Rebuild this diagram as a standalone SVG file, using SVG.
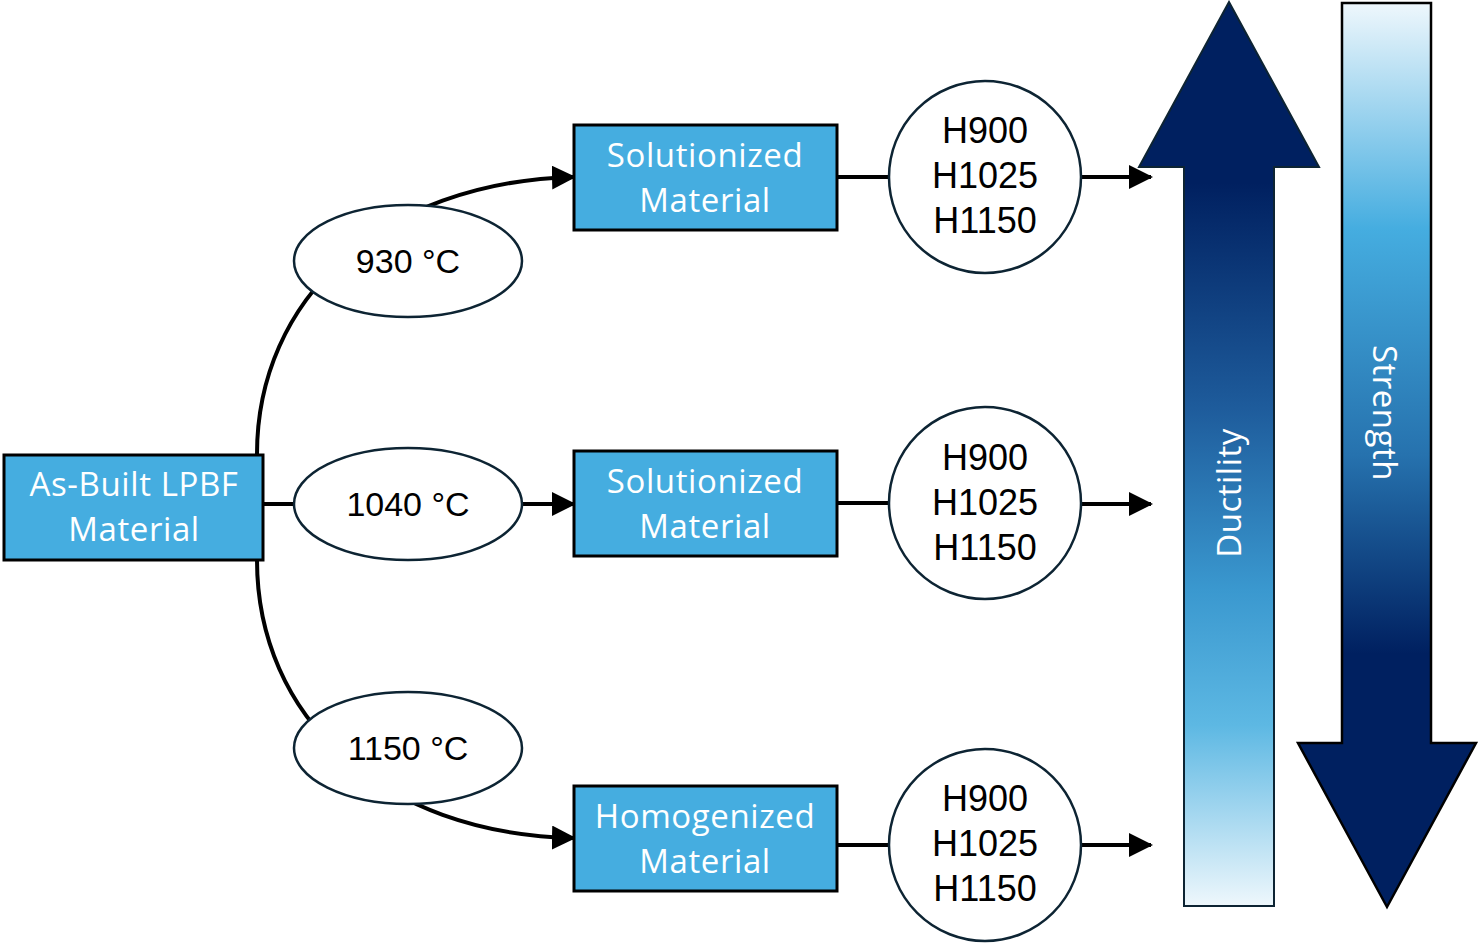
<svg xmlns="http://www.w3.org/2000/svg" width="1479" height="943" viewBox="0 0 1479 943">
<style>
.box{fill:#45ADE0;stroke:#000;stroke-width:3}
.ell{fill:#fff;stroke:#0d2433;stroke-width:2.5}
.bt{font-family:"Open Sans","Noto Sans",sans-serif;font-size:33px;fill:#fff;text-anchor:middle;letter-spacing:0.6px}
.et{font-family:"Liberation Sans",Arial,sans-serif;font-size:34px;fill:#000;text-anchor:middle}
.ct{font-family:"Liberation Sans",Arial,sans-serif;font-size:36px;fill:#000;text-anchor:middle}
.con{fill:none;stroke:#000;stroke-width:4}
.vt{font-family:"Open Sans","Noto Sans",sans-serif;font-size:33px;fill:#fff;text-anchor:middle;letter-spacing:0.5px}
</style>
<defs>
<marker id="ah" markerWidth="24" markerHeight="24" refX="22" refY="12" orient="auto" markerUnits="userSpaceOnUse" viewBox="0 0 24 24">
<path d="M0,0 L24,12 L0,24 Z" fill="#000"/>
</marker>
<linearGradient id="gDuct" x1="0" y1="0" x2="0" y2="1" gradientUnits="objectBoundingBox">
<stop offset="0" stop-color="#002060"/>
<stop offset="0.2" stop-color="#002060"/>
<stop offset="0.45" stop-color="#1E5C9C"/>
<stop offset="0.65" stop-color="#3A98CF"/>
<stop offset="0.8" stop-color="#5DB8E3"/>
<stop offset="1" stop-color="#EEF7FC"/>
</linearGradient>
<linearGradient id="gStr" x1="0" y1="0" x2="0" y2="1" gradientUnits="objectBoundingBox">
<stop offset="0" stop-color="#EEF7FC"/>
<stop offset="0.25" stop-color="#45ADE0"/>
<stop offset="0.5" stop-color="#2672AE"/>
<stop offset="0.72" stop-color="#002060"/>
<stop offset="1" stop-color="#002060"/>
</linearGradient>
</defs>

<g id="connectors">
<line class="con" x1="263" y1="504" x2="295" y2="504"/>
<line class="con" x1="522" y1="504" x2="574" y2="504" marker-end="url(#ah)"/>
<path class="con" d="M257,454 C257,300 380,182 574,177" marker-end="url(#ah)"/>
<path class="con" d="M257,560 C257,716 380,834 574,838" marker-end="url(#ah)"/>
<line class="con" x1="837" y1="177" x2="890" y2="177"/>
<line class="con" x1="837" y1="503" x2="890" y2="503"/>
<line class="con" x1="837" y1="845" x2="890" y2="845"/>
<line class="con" x1="1081" y1="177" x2="1151" y2="177" marker-end="url(#ah)"/>
<line class="con" x1="1081" y1="504" x2="1151" y2="504" marker-end="url(#ah)"/>
<line class="con" x1="1081" y1="845" x2="1151" y2="845" marker-end="url(#ah)"/>
</g>

<g id="asbuilt">
<rect class="box" x="4" y="455" width="259" height="105"/>
<text class="bt" x="134" y="496">As-Built LPBF</text>
<text class="bt" x="134" y="541">Material</text>
</g>

<g id="t930">
<ellipse class="ell" cx="408" cy="261" rx="114" ry="56"/>
<text class="et" x="408" y="273">930 °C</text>
</g>
<g id="t1040">
<ellipse class="ell" cx="408" cy="504" rx="114" ry="56"/>
<text class="et" x="408" y="516">1040 °C</text>
</g>
<g id="t1150">
<ellipse class="ell" cx="408" cy="748" rx="114" ry="56"/>
<text class="et" x="408" y="760">1150 °C</text>
</g>

<g id="sol1">
<rect class="box" x="574" y="125" width="263" height="105"/>
<text class="bt" x="705" y="167">Solutionized</text>
<text class="bt" x="705" y="212">Material</text>
</g>
<g id="sol2">
<rect class="box" x="574" y="451" width="263" height="105"/>
<text class="bt" x="705" y="493">Solutionized</text>
<text class="bt" x="705" y="538">Material</text>
</g>
<g id="hom">
<rect class="box" x="574" y="786" width="263" height="105"/>
<text class="bt" x="705" y="828">Homogenized</text>
<text class="bt" x="705" y="873">Material</text>
</g>

<g id="c1">
<circle class="ell" cx="985" cy="177" r="96"/>
<text class="ct" x="985" y="143">H900</text>
<text class="ct" x="985" y="188">H1025</text>
<text class="ct" x="985" y="233">H1150</text>
</g>
<g id="c2">
<circle class="ell" cx="985" cy="503" r="96"/>
<text class="ct" x="985" y="470">H900</text>
<text class="ct" x="985" y="515">H1025</text>
<text class="ct" x="985" y="560">H1150</text>
</g>
<g id="c3">
<circle class="ell" cx="985" cy="845" r="96"/>
<text class="ct" x="985" y="811">H900</text>
<text class="ct" x="985" y="856">H1025</text>
<text class="ct" x="985" y="901">H1150</text>
</g>

<g id="ductility">
<path d="M1229,2 L1319,167 L1274,167 L1274,906 L1184,906 L1184,167 L1139,167 Z" fill="url(#gDuct)" stroke="#0d2433" stroke-width="2"/>
<text class="vt" transform="translate(1241,493) rotate(-90)">Ductility</text>
</g>
<g id="strength">
<path d="M1342,3 L1431,3 L1431,743 L1476,743 L1387,907 L1298,743 L1342,743 Z" fill="url(#gStr)" stroke="#000" stroke-width="2.5"/>
<text class="vt" transform="translate(1373,413) rotate(90)">Strength</text>
</g>
</svg>
